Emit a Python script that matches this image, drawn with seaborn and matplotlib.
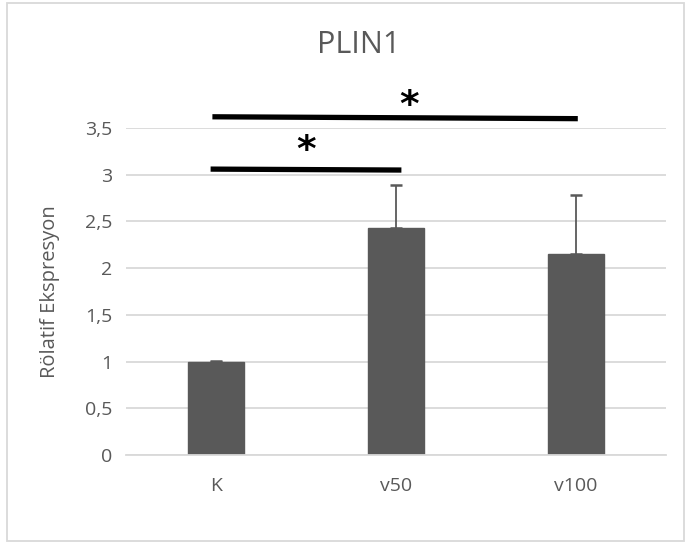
import matplotlib
matplotlib.use("Agg")
import matplotlib.pyplot as plt
import seaborn as sns
import pandas as pd
from matplotlib.patches import Rectangle
from matplotlib.ticker import FuncFormatter

# ---- data ----
categories = ["K", "v50", "v100"]
means = [1.00, 2.43, 2.15]
errors = [0.01, 0.46, 0.63]
yticks = [0, 0.5, 1, 1.5, 2, 2.5, 3, 3.5]
# significance brackets: (x_start, x_end, y_start, y_end)
sig_lines = [(-0.03, 1.03, 3.06, 3.05), (-0.02, 2.01, 3.62, 3.60)]
sig_stars = [(0.5, 3.25), (1.07, 3.74)]

sns.set_theme(style="white")
plt.rcParams["font.family"] = ["Open Sans", "DejaVu Sans"]

fig = plt.figure(figsize=(6.85, 5.42), dpi=100)
ax = fig.add_axes([126/685, 1-455/542, 540/685, (455-128)/542])

df = pd.DataFrame({"cat": categories, "val": means})
sns.barplot(data=df, x="cat", y="val", color="#595959", saturation=1,
            width=0.315, errorbar=None, ax=ax, edgecolor="#595959")
ax.errorbar(range(len(categories)), means, yerr=[[0]*3, errors], fmt="none",
            ecolor="#595959", elinewidth=1.3, capsize=4.5, capthick=1.8, zorder=3)

ax.set_xlim(-0.5, 2.5)
ax.set_ylim(0, 3.5)
ax.set_yticks(yticks)
ax.yaxis.set_major_formatter(FuncFormatter(lambda v, p: ("%g" % v).replace(".", ",")))
ax.grid(axis="y", color="#d9d9d9", lw=1.3)
ax.set_axisbelow(True)
for s in ["top", "right", "left"]:
    ax.spines[s].set_visible(False)
ax.spines["bottom"].set_color("#d9d9d9")
ax.spines["bottom"].set_linewidth(1.3)
ax.tick_params(axis="both", length=0, colors="#595959", labelsize=14)
ax.tick_params(axis="y", pad=10)
ax.tick_params(axis="x", pad=16)
ax.set_xlabel("")
ax.set_ylabel("Rölatif Ekspresyon", color="#595959", fontsize=14.5, labelpad=18)

for x0, x1, y0, y1 in sig_lines:
    ax.plot([x0, x1], [y0, y1], color="black", lw=3.8, clip_on=False, solid_capstyle="butt")
for x, y in sig_stars:
    ax.text(x, y, "*", ha="center", va="center", fontsize=27, fontweight="bold",
            color="black", family="DejaVu Sans", clip_on=False)

fig.text(359/685, 1-45/542, "PLIN1", ha="center", va="center", fontsize=22, color="#595959")

fig.patches.append(Rectangle((7/685, 1-541/542), 677/685, 538/542, transform=fig.transFigure,
                             fill=False, edgecolor="#d9d9d9", lw=1.3))

fig.savefig("out.png", dpi=100)
